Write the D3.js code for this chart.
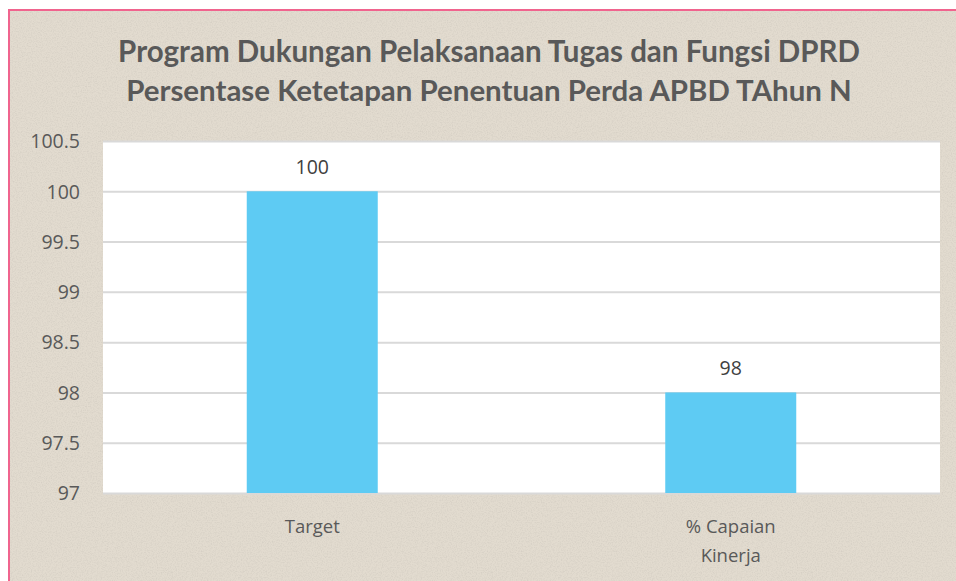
<!doctype html>
<html lang="id">
<head>
  <meta charset="utf-8">
  <title>Program Dukungan Pelaksanaan Tugas dan Fungsi DPRD</title>
  <style type="text/css">
    html, body{
      margin:0;
      padding:0;
      background:#fff;
    }
    text{
      font-family: "Open Sans", "Liberation Sans", sans-serif;
    }
    .title{
      font-family: Lato, "Open Sans", sans-serif;
    }
  </style>
</head>
<body>
  <div id="vis"></div>
  <script src="https://d3js.org/d3.v7.min.js"></script>
  <script type="text/javascript">

    var categories = ['Target', '% Capaian Kinerja'],
      values = [100, 98],
      yTicks = [97, 97.5, 98, 98.5, 99, 99.5, 100, 100.5],
      titleLines = ['Program Dukungan Pelaksanaan Tugas dan Fungsi DPRD',
        'Persentase Ketetapan Penentuan Perda APBD TAhun N'];

    var width = 956, height = 581;
    var plot = {left:103, right:940, top:141, bottom:493};

    var vis = d3.select('#vis').append('svg')
      .attr('width', width)
      .attr('height', height);

    // paper texture
    var defs = vis.append('defs');
    var f = defs.append('filter').attr('id','paper')
      .attr('x',0).attr('y',0).attr('width','100%').attr('height','100%');
    f.append('feTurbulence')
      .attr('type','fractalNoise')
      .attr('baseFrequency','0.8')
      .attr('numOctaves',3)
      .attr('seed',3)
      .attr('result','noise');
    f.append('feColorMatrix')
      .attr('in','noise')
      .attr('type','matrix')
      .attr('values','0 0 0 0 0.6  0 0 0 0 0.56  0 0 0 0 0.5  0 0 0 -2.2 1.25')
      .attr('result','spots');
    f.append('feComposite').attr('in','spots').attr('in2','SourceGraphic').attr('operator','atop');

    vis.append('rect')
      .attr('x', 9).attr('y', 10)
      .attr('width', width).attr('height', height)
      .style('fill', '#e2dbcf');

    vis.append('rect')
      .attr('x', 9).attr('y', 10)
      .attr('width', width).attr('height', height)
      .style('fill', '#e2dbcf')
      .attr('filter','url(#paper)')
      .style('opacity', 0.5);

    vis.append('rect')
      .attr('x', 9).attr('y', 10)
      .attr('width', width + 10).attr('height', height + 10)
      .style('fill', 'none')
      .style('stroke', '#f0648e')
      .style('stroke-width', 2);

    // title
    var title = vis.append('g');
    title.selectAll('text').data(titleLines).enter().append('text')
      .attr('class','title')
      .attr('x', 489)
      .attr('y', function(d,i){ return 62 + i*39; })
      .attr('text-anchor','middle')
      .style('font-size','26px')
      .style('font-weight','bold')
      .style('fill','#595959')
      .text(function(d){ return d; })
      .each(function(d){
        // fit to the width seen in the reference
        var w = this.getComputedTextLength();
        var target = d === titleLines[0] ? 742 : 726;
        d3.select(this).style('font-size', (26 * target / w) + 'px');
      });

    var x = d3.scaleBand().domain(categories).range([plot.left, plot.right]).padding(0);
    var y = d3.scaleLinear().domain([97, 100.5]).range([plot.bottom, plot.top]);
    var barW = x.bandwidth() * 0.313;

    vis.append('rect')
      .attr('x', plot.left)
      .attr('y', plot.top)
      .attr('width', plot.right - plot.left)
      .attr('height', plot.bottom - plot.top)
      .style('fill', '#fff');

    var yAxis = d3.axisLeft(y).tickValues(yTicks).tickSize(-(plot.right - plot.left))
      .tickFormat(function(d){ return d3.format('')(d); });

    var gy = vis.append('g')
      .attr('transform','translate(' + plot.left + ',0)')
      .call(yAxis);
    gy.select('.domain').remove();
    gy.selectAll('line').style('stroke','#d9d9d9').style('stroke-width', 2);
    gy.selectAll('text')
      .attr('x', -23)
      .style('font-size','19.5px')
      .style('fill','#595959')
      .attr('dy','0.35em');

    vis.selectAll('.bar').data(values).enter().append('rect')
      .attr('class','bar')
      .attr('x', function(d,i){ return x(categories[i]) + x.bandwidth()/2 - barW/2; })
      .attr('y', function(d){ return y(d); })
      .attr('width', barW)
      .attr('height', function(d){ return y(97) - y(d); })
      .style('fill','#5ecbf3');

    vis.selectAll('.lbl').data(values).enter().append('text')
      .attr('class','lbl')
      .attr('x', function(d,i){ return x(categories[i]) + x.bandwidth()/2; })
      .attr('y', function(d){ return y(d) - 17; })
      .attr('text-anchor','middle')
      .style('font-size','19.5px')
      .style('fill','#404040')
      .text(function(d){ return d; });

    // category labels, wrapped like the original
    var xl = vis.selectAll('.cat').data(categories).enter().append('text')
      .attr('class','cat')
      .attr('text-anchor','middle')
      .style('font-size','18.5px')
      .style('fill','#595959');
    xl.each(function(d){
      var words = d === '% Capaian Kinerja' ? ['% Capaian', 'Kinerja'] : [d];
      var t = d3.select(this);
      words.forEach(function(w, i){
        t.append('tspan')
          .attr('x', x(d) + x.bandwidth()/2)
          .attr('y', 533 + i*29)
          .text(w);
      });
    });

  </script>
</body>
</html>
